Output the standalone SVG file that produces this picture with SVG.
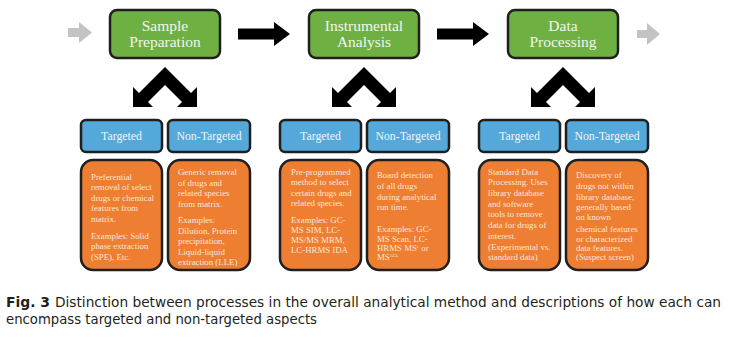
<svg xmlns="http://www.w3.org/2000/svg" width="732" height="338" viewBox="0 0 732 338">
<style>
.g{fill:#6fb043;stroke:#1f1f1f;stroke-width:2.5}
.b{fill:#55a8da;stroke:#1f1f1f;stroke-width:2.5}
.o{fill:#ee7e32;stroke:#1f1f1f;stroke-width:2.5}
.gt{font-family:"Liberation Serif","Times New Roman",serif;font-size:15.5px;fill:#f2f6ee;text-anchor:middle}
.bt{font-family:"Liberation Serif","Times New Roman",serif;font-size:11.8px;fill:#eef6fb;text-anchor:middle}
.ot{font-family:"Liberation Serif","Times New Roman",serif;font-size:8.8px;fill:#fce6d6}
.cap{font-family:"Liberation Sans Narrow","DejaVu Sans Condensed","Liberation Sans",Arial,sans-serif;font-size:14.5px;fill:#231f20}
.blk{fill:#000}
.gry{fill:#c3c3c3}
</style>
<defs>
<polygon id="chev" points="165,67 191,93 197,87 197,107 177,107 182,102 165,85 148,102 153,107 133,107 133,87 139,93"/>
</defs>
<rect width="732" height="338" fill="#fff"/>

<g id="connectors">
<polygon class="gry" points="68,28 79,28 79,22 92,32.5 79,43 79,37 68,37"/>
<polygon class="blk" points="238,28.5 274,28.5 274,22 290,34 274,46 274,39.5 238,39.5"/>
<polygon class="blk" points="437,28.5 473,28.5 473,22 489,34 473,46 473,39.5 437,39.5"/>
<polygon class="gry" points="637,30 647,30 647,23 660,34 647,45 647,38 637,38"/>
<use href="#chev" class="blk"/>
<use href="#chev" class="blk" transform="translate(199,0)"/>
<use href="#chev" class="blk" transform="translate(398,0)"/>
</g>

<g id="sample-preparation">
<rect class="g" x="110" y="10" width="110" height="48" rx="7"/>
<text class="gt" x="165" y="31">Sample</text>
<text class="gt" x="165" y="47">Preparation</text>
</g>
<g id="instrumental-analysis">
<rect class="g" x="309" y="10" width="110" height="48" rx="7"/>
<text class="gt" x="364" y="31">Instrumental</text>
<text class="gt" x="364" y="47">Analysis</text>
</g>
<g id="data-processing">
<rect class="g" x="508" y="10" width="110" height="48" rx="7"/>
<text class="gt" x="563" y="31">Data</text>
<text class="gt" x="563" y="47">Processing</text>
</g>

<g id="sp-targeted">
<rect class="b" x="81" y="120" width="81" height="32" rx="5"/>
<text class="bt" x="121.5" y="140">Targeted</text>
</g>
<g id="sp-nontargeted">
<rect class="b" x="168" y="120" width="82" height="32" rx="5"/>
<text class="bt" x="209" y="140">Non-Targeted</text>
</g>
<g id="ia-targeted">
<rect class="b" x="280" y="120" width="81" height="32" rx="5"/>
<text class="bt" x="320.5" y="140">Targeted</text>
</g>
<g id="ia-nontargeted">
<rect class="b" x="367" y="120" width="82" height="32" rx="5"/>
<text class="bt" x="408" y="140">Non-Targeted</text>
</g>
<g id="dp-targeted">
<rect class="b" x="479" y="120" width="81" height="32" rx="5"/>
<text class="bt" x="519.5" y="140">Targeted</text>
</g>
<g id="dp-nontargeted">
<rect class="b" x="566" y="120" width="82" height="32" rx="5"/>
<text class="bt" x="607" y="140">Non-Targeted</text>
</g>

<g id="sp-targeted-desc">
<rect class="o" x="81" y="160" width="81" height="110" rx="12"/>
<text class="ot" x="91" y="180">Preferential</text>
<text class="ot" x="91" y="190.4">removal of select</text>
<text class="ot" x="91" y="200.8">drugs or chemical</text>
<text class="ot" x="91" y="211.2">features from</text>
<text class="ot" x="91" y="221.6">matrix.</text>
<text class="ot" x="91" y="239">Examples: Solid</text>
<text class="ot" x="91" y="249.4">phase extraction</text>
<text class="ot" x="91" y="259.8">(SPE), Etc.</text>
</g>
<g id="sp-nontargeted-desc">
<rect class="o" x="168" y="160" width="82" height="110" rx="12"/>
<text class="ot" x="178" y="175">Generic removal</text>
<text class="ot" x="178" y="185.5">of drugs and</text>
<text class="ot" x="178" y="196">related species</text>
<text class="ot" x="178" y="206.5">from matrix.</text>
<text class="ot" x="178" y="223">Examples:</text>
<text class="ot" x="178" y="233.5">Dilution, Protein</text>
<text class="ot" x="178" y="244">precipitation,</text>
<text class="ot" x="178" y="254.5">Liquid-liquid</text>
<text class="ot" x="178" y="265">extraction (LLE)</text>
</g>
<g id="ia-targeted-desc">
<rect class="o" x="280" y="160" width="81" height="110" rx="12"/>
<text class="ot" x="291" y="175">Pre-programmed</text>
<text class="ot" x="291" y="185">method to select</text>
<text class="ot" x="291" y="195.5">certain drugs and</text>
<text class="ot" x="291" y="206">related species.</text>
<text class="ot" x="291" y="222.5">Examples: GC-</text>
<text class="ot" x="291" y="232.5">MS SIM, LC-</text>
<text class="ot" x="291" y="242.5">MS/MS MRM,</text>
<text class="ot" x="291" y="253">LC-HRMS IDA</text>
</g>
<g id="ia-nontargeted-desc">
<rect class="o" x="367" y="160" width="82" height="110" rx="12"/>
<text class="ot" x="377" y="178">Board detection</text>
<text class="ot" x="377" y="189">of all drugs</text>
<text class="ot" x="377" y="199.5">during analytical</text>
<text class="ot" x="377" y="209.5">run time.</text>
<text class="ot" x="377" y="231.5">Examples: GC-</text>
<text class="ot" x="377" y="241.5">MS Scan, LC-</text>
<text class="ot" x="377" y="251">HRMS MS<tspan font-size="5" dy="-3">e</tspan><tspan dy="3"> or</tspan></text>
<text class="ot" x="377" y="260">MS<tspan font-size="4.5" dy="-3">ALL</tspan></text>
</g>
<g id="dp-targeted-desc">
<rect class="o" x="479" y="160" width="81" height="110" rx="12"/>
<text class="ot" x="488" y="175">Standard Data</text>
<text class="ot" x="488" y="185">Processing. Uses</text>
<text class="ot" x="488" y="196">library database</text>
<text class="ot" x="488" y="206.5">and software</text>
<text class="ot" x="488" y="217">tools to remove</text>
<text class="ot" x="488" y="228">data for drugs of</text>
<text class="ot" x="488" y="239">interest.</text>
<text class="ot" x="488" y="250" font-size="8">(Experimental vs.</text>
<text class="ot" x="488" y="260">standard data)</text>
</g>
<g id="dp-nontargeted-desc">
<rect class="o" x="566" y="160" width="82" height="110" rx="12"/>
<text class="ot" x="576" y="178">Discovery of</text>
<text class="ot" x="576" y="189">drugs not within</text>
<text class="ot" x="576" y="199.5">library database,</text>
<text class="ot" x="576" y="209.5">generally based</text>
<text class="ot" x="576" y="220">on known</text>
<text class="ot" x="576" y="231.5">chemical features</text>
<text class="ot" x="576" y="241.5">or characterized</text>
<text class="ot" x="576" y="250.5" font-size="8">data features.</text>
<text class="ot" x="576" y="260">(Suspect screen)</text>
</g>

<g id="caption">
<text class="cap" x="6" y="307" font-weight="bold" textLength="44" lengthAdjust="spacingAndGlyphs">Fig. 3</text>
<text class="cap" x="55" y="307" textLength="666" lengthAdjust="spacingAndGlyphs">Distinction between processes in the overall analytical method and descriptions of how each can</text>
<text class="cap" x="6" y="323.5" textLength="311" lengthAdjust="spacingAndGlyphs">encompass targeted and non-targeted aspects</text>
</g>
</svg>
